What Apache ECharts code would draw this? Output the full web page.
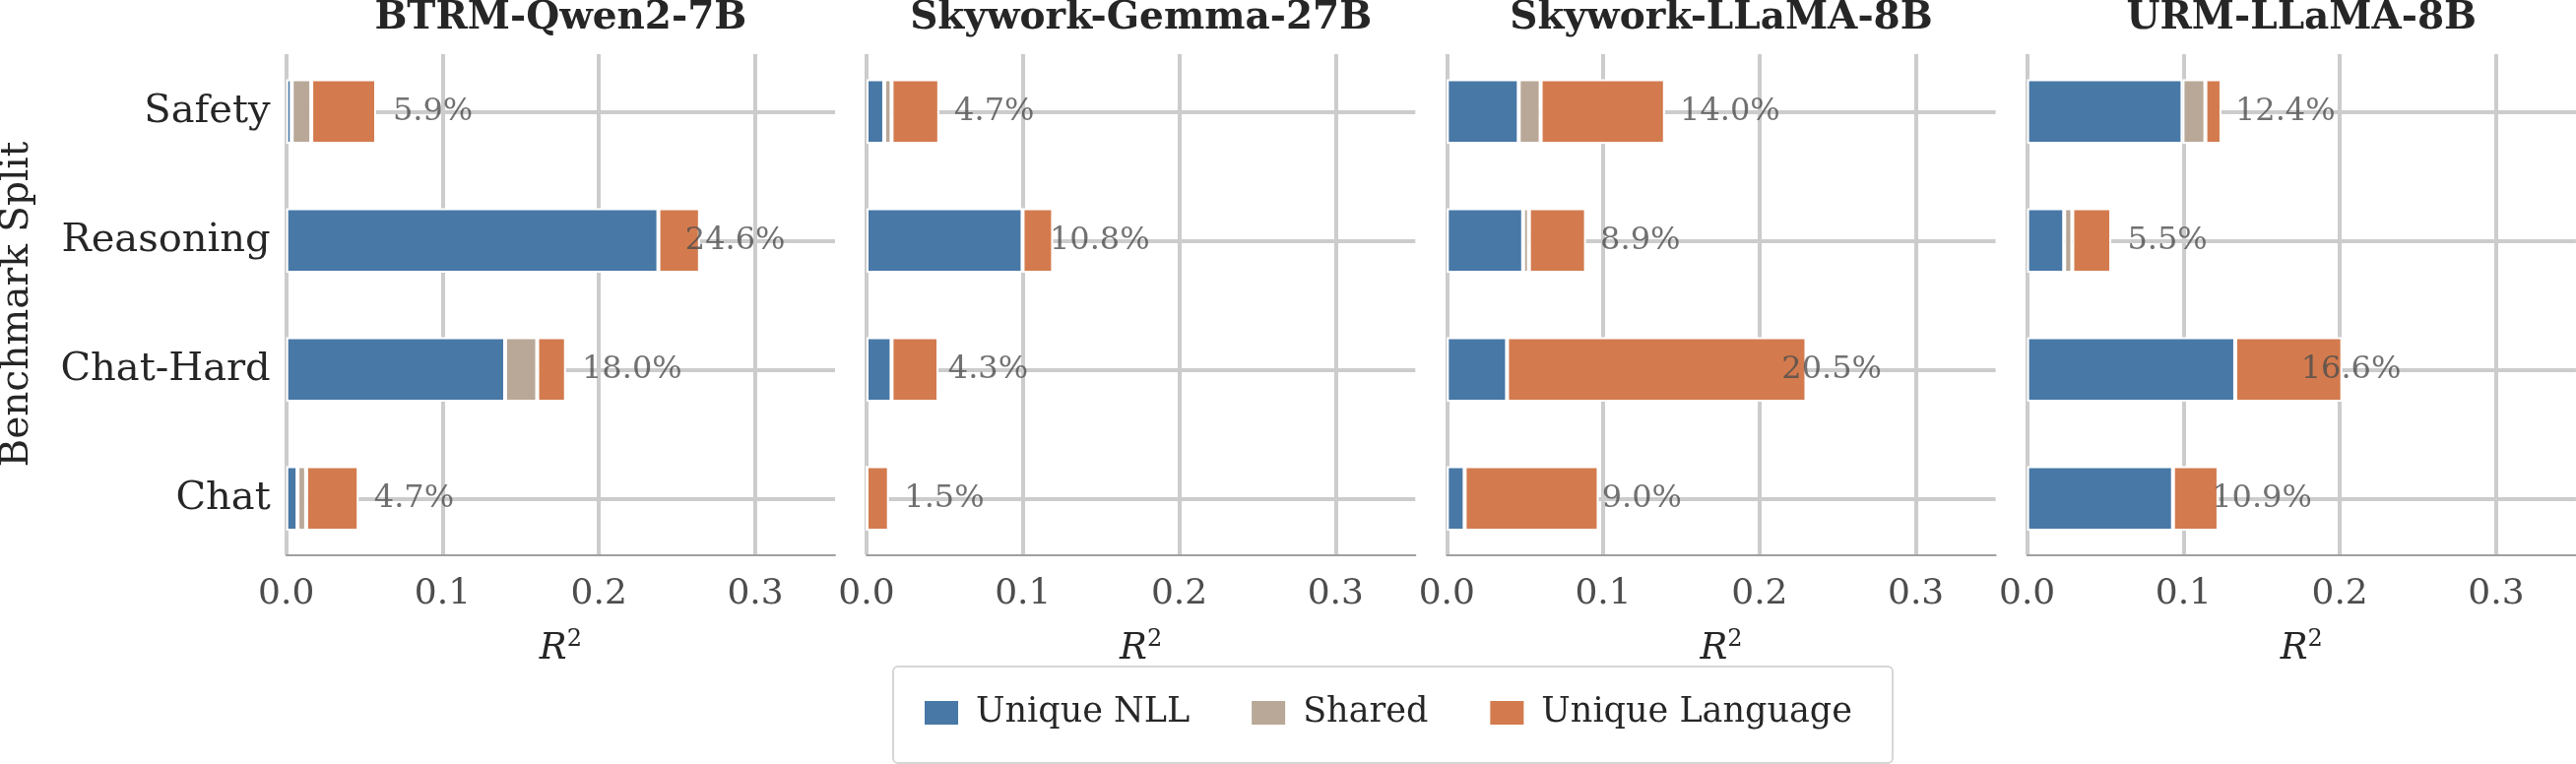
<!DOCTYPE html>
<html>
<head>
<meta charset="utf-8">
<script src="https://cdn.jsdelivr.net/npm/echarts@6/dist/echarts.min.js"></script>
<style>
html,body{margin:0;padding:0;background:#fff;}
#chart{width:2616px;height:776px;}
</style>
</head>
<body>
<div id="chart"></div>
<script>
// ---- data ----
const categories = ['Safety', 'Reasoning', 'Chat-Hard', 'Chat'];
const models = ['BTRM-Qwen2-7B', 'Skywork-Gemma-27B', 'Skywork-LLaMA-8B', 'URM-LLaMA-8B'];
const seriesNames = ['Unique NLL', 'Shared', 'Unique Language'];
const xTicks = [0.0, 0.1, 0.2, 0.3];

const uniqueNLL_BTRM   = [0.0035, 0.238, 0.140, 0.0072];
const shared_BTRM      = [0.0125, 0, 0.0205, 0.0055];
const uniqueLang_BTRM  = [0.0415, 0.0266, 0.0184, 0.0336];
const total_BTRM       = [5.9, 24.6, 18.0, 4.7];

const uniqueNLL_Gemma  = [0.0113, 0.0998, 0.016, 0];
const shared_Gemma     = [0.0047, 0, 0, 0];
const uniqueLang_Gemma = [0.0305, 0.0195, 0.030, 0.0143];
const total_Gemma      = [4.7, 10.8, 4.3, 1.5];

const uniqueNLL_SkyL   = [0.046, 0.0488, 0.0385, 0.0114];
const shared_SkyL      = [0.014, 0.0037, 0, 0];
const uniqueLang_SkyL  = [0.0795, 0.0365, 0.1915, 0.0857];
const total_SkyL       = [14.0, 8.9, 20.5, 9.0];

const uniqueNLL_URM    = [0.0994, 0.0237, 0.1331, 0.0933];
const shared_URM       = [0.0146, 0.0052, 0, 0];
const uniqueLang_URM   = [0.0103, 0.0249, 0.0685, 0.0291];
const total_URM        = [12.4, 5.5, 16.6, 10.9];

const panels = [
  [uniqueNLL_BTRM, shared_BTRM, uniqueLang_BTRM, total_BTRM],
  [uniqueNLL_Gemma, shared_Gemma, uniqueLang_Gemma, total_Gemma],
  [uniqueNLL_SkyL, shared_SkyL, uniqueLang_SkyL, total_SkyL],
  [uniqueNLL_URM, shared_URM, uniqueLang_URM, total_URM]
];

// ---- styling / layout ----
const FONT = 'DejaVu Serif';
const colors = ['#4878a6', '#b9a898', '#d37b4e'];
const X_MAX = 0.351;
const PANEL_LEFT0 = 290.7, PANEL_STEP = 589.3, PANEL_W = 557.3;
const BAR_TOP = 47.8, BAR_H = 524;
const AX_TOP = 55, AX_H = 508.3;

const chart = echarts.init(document.getElementById('chart'), null, {renderer: 'canvas'});

const grid = [], xAxis = [], yAxis = [], series = [], graphic = [];
const gridLineRows = ['', '', '', '', '', '', '', '', ''];

models.forEach((m, i) => {
  const left = PANEL_LEFT0 + PANEL_STEP * i;
  // grid for the bars (index 2i), grid for the value axis (2i+1)
  grid.push({left: left, width: PANEL_W, top: BAR_TOP, height: BAR_H, containLabel: false});
  grid.push({left: left, width: PANEL_W, top: AX_TOP, height: AX_H, containLabel: false});
  const gA = 2 * i, gB = 2 * i + 1;

  xAxis.push({gridIndex: gA, type: 'value', min: 0, max: X_MAX, show: false});
  xAxis.push({
    gridIndex: gB, type: 'value', min: 0, max: X_MAX, interval: 0.1, position: 'bottom',
    axisLine: {show: true, onZero: false, lineStyle: {color: '#a0a0a0', width: 2}},
    axisTick: {show: false},
    splitLine: {show: true, showMaxLine: false, lineStyle: {color: '#cccccc', width: 4}},
    axisLabel: {
      show: true, showMaxLabel: false, margin: 22, fontFamily: FONT, fontSize: 36,
      lineHeight: 36, color: '#4d4d4d', formatter: v => v.toFixed(1)
    },
    name: '{r|R}{s|2}', nameLocation: 'middle', nameGap: 74,
    nameTextStyle: {
      rich: {
        r: {fontFamily: FONT, fontStyle: 'italic', fontSize: 37, color: '#262626', lineHeight: 44},
        s: {fontFamily: FONT, fontSize: 24, color: '#262626', verticalAlign: 'top', lineHeight: 24}
      }
    }
  });

  // category axis for bars, hidden helper for row gridlines, dummy for axis grid
  yAxis.push({
    gridIndex: gA, type: 'category', data: categories, inverse: true,
    axisLine: {show: false}, axisTick: {show: false}, splitLine: {show: false},
    axisLabel: {
      show: i === 0, margin: 16, fontFamily: FONT, fontSize: 40, color: '#262626'
    }
  });
  yAxis.push({
    gridIndex: gA, type: 'category', data: gridLineRows, boundaryGap: false, position: 'left',
    axisLine: {show: false}, axisTick: {show: false}, axisLabel: {show: false},
    splitLine: {show: true, interval: (idx) => idx % 2 === 1, lineStyle: {color: '#cccccc', width: 4}}
  });
  yAxis.push({gridIndex: gB, type: 'value', min: 0, max: 1, show: false});

  const vals = panels[i];
  for (let s = 0; s < 3; s++) {
    series.push({
      name: seriesNames[s], type: 'bar', xAxisIndex: gA, yAxisIndex: 3 * i, stack: 'p' + i,
      barWidth: '50%', data: vals[s], z: 2,
      itemStyle: {color: colors[s], borderColor: '#ffffff', borderWidth: 2},
      emphasis: {disabled: true}, animation: false
    });
  }
  // percentage labels placed at total R^2
  series.push({
    type: 'scatter', xAxisIndex: gA, yAxisIndex: 3 * i, z: 4, symbolSize: 1,
    itemStyle: {color: 'rgba(0,0,0,0)'}, animation: false, silent: true,
    data: vals[3].map((t, k) => [t / 100, categories[k]]),
    label: {
      show: true, position: 'right', distance: 14, fontFamily: FONT, fontSize: 32,
      color: '#4d4d4d', formatter: p => (p.value[0] * 100).toFixed(1) + '%'
    }
  });

  graphic.push({
    type: 'text', x: left + PANEL_W / 2, y: 19, z: 10,
    style: {text: m, fontFamily: FONT, fontWeight: 'bold', fontSize: 39, fill: '#262626',
            align: 'center', verticalAlign: 'middle'}
  });
});

graphic.push({
  type: 'text', x: 18, y: 309, rotation: Math.PI / 2, z: 10,
  style: {text: 'Benchmark Split', fontFamily: FONT, fontSize: 39, fill: '#262626',
          align: 'center', verticalAlign: 'middle'}
});
graphic.push({
  type: 'rect', z: 0, shape: {x: 907, y: 677, width: 1015, height: 98, r: 5},
  style: {fill: '#ffffff', stroke: '#d6d6d6', lineWidth: 2}
});

const option = {
  backgroundColor: '#ffffff',
  animation: false,
  grid: grid,
  xAxis: xAxis,
  yAxis: yAxis,
  series: series,
  graphic: graphic,
  legend: {
    data: seriesNames, left: 937, top: 704, padding: 0, itemGap: 61,
    itemWidth: 36, itemHeight: 26, icon: 'rect', selectedMode: false, z: 5,
    textStyle: {fontFamily: FONT, fontSize: 35, color: '#262626', lineHeight: 40, padding: [0, 0, 0, 12]}
  }
};
chart.setOption(option);
</script>
</body>
</html>
